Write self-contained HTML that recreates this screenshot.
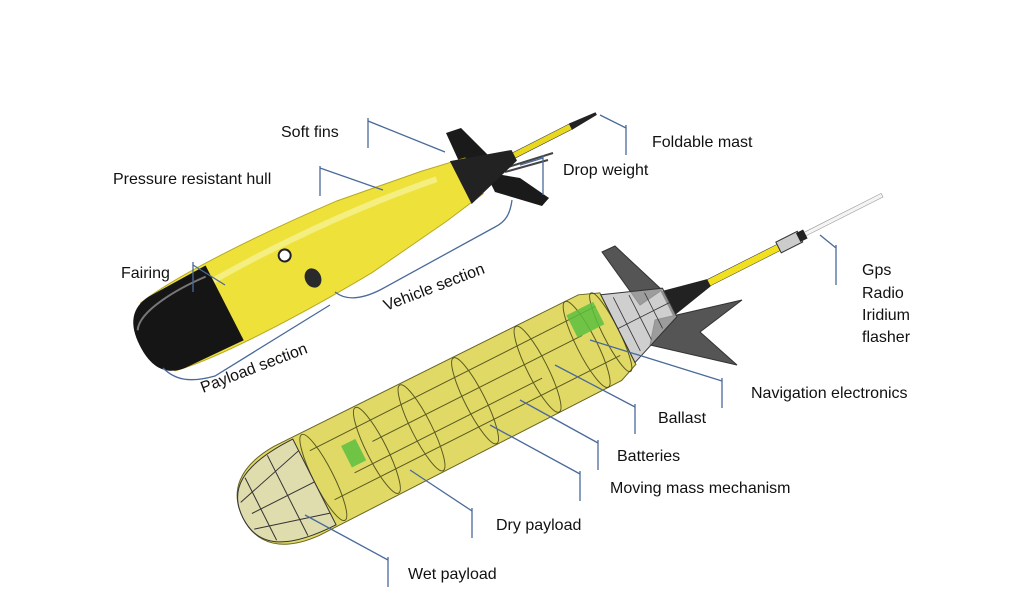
<!DOCTYPE html>
<html><head><meta charset="utf-8"><style>
html,body{margin:0;padding:0;background:#fff;}
svg{display:block;}
text{font-family:"Liberation Sans",Arial,sans-serif;font-size:16px;fill:#111;}
.l{stroke:#4a6a9a;stroke-width:1.3;fill:none;}
</style></head><body>
<svg width="1024" height="613" viewBox="0 0 1024 613" xmlns="http://www.w3.org/2000/svg">
<rect width="1024" height="613" fill="#fff"/>

<path d="M446,133 L461,128 L488,155 L462,168 Z" fill="#1a1a1a"/>
<path d="M485,172 L520,178 L549,198 L542,206 L495,192 Z" fill="#1a1a1a"/>
<path d="M505,168 L553,153 M505,172 L548,160" stroke="#444" stroke-width="2"/>
<g transform="translate(140,346) rotate(-27)">
  <rect x="415" y="-3" width="70" height="6" fill="#e8d820" stroke="#333" stroke-width="0.5"/>
  <path d="M483,-3.5 L512,-1.5 L512,1.5 L483,3.5 Z" fill="#222"/>
  <path d="M20,-38 C60,-46 150,-46 240,-40 L330,-28 L375,-20 L375,20 L330,28 L240,40 C150,46 60,46 20,38 Z" fill="#eee23a" stroke="#b8a820" stroke-width="1"/>
  <path d="M30,-20 C120,-30 240,-28 340,-14" stroke="#f8f4a0" stroke-width="6" fill="none" opacity="0.7"/>
  <path d="M360,-24 L420,-6 L420,6 L360,24 Z" fill="#222"/>
  <path d="M0,0 C0,-25 10,-38 30,-40 L95,-42 L95,42 L30,40 C10,38 0,25 0,0 Z" fill="#151515"/>
  <path d="M5,-15 C15,-32 60,-34 90,-32" stroke="#777" stroke-width="2" fill="none"/>
  <circle cx="170" cy="-15" r="6" fill="#fff" stroke="#222" stroke-width="2"/>
  <ellipse cx="185" cy="18" rx="8" ry="10" fill="#2a2a2a"/>
</g>

<path d="M602,252 L615,246 L662,290 L640,305 Z" fill="#555" stroke="#333"/>
<path d="M655,320 L742,300 L700,332 L737,365 L650,345 Z" fill="#555" stroke="#333"/>
<g transform="translate(243,518) rotate(-26.8)">
  <rect x="520" y="-3.5" width="82" height="7" fill="#f0e020" stroke="#333" stroke-width="0.5"/>
  <rect x="628" y="-2" width="88" height="4" fill="#f4f4f4" stroke="#999" stroke-width="0.6"/>
  <rect x="600" y="-6" width="24" height="12" fill="#ccc" stroke="#333"/>
  <rect x="622" y="-5" width="8" height="10" fill="#222"/>
  <path d="M475,-14 L522,-4 L522,4 L475,14 Z" fill="#222"/>
  <path d="M0,0 C0,-30 20,-48 60,-50 L400,-48 L420,-40 L420,40 L400,48 L60,50 C20,48 0,30 0,0 Z" fill="#d8d040" fill-opacity="0.8" stroke="#6a6420" stroke-width="1"/>
  <g stroke="#3a3a10" stroke-width="1" fill="none" opacity="0.8">
    <ellipse cx="90" cy="0" rx="10" ry="48"/>
    <ellipse cx="150" cy="0" rx="10" ry="48"/>
    <ellipse cx="200" cy="0" rx="10" ry="48"/>
    <ellipse cx="260" cy="0" rx="10" ry="48"/>
    <ellipse cx="330" cy="0" rx="10" ry="48"/>
    <ellipse cx="385" cy="0" rx="10" ry="48"/>
    <ellipse cx="412" cy="0" rx="8" ry="44"/>
    <line x1="90" y1="-30" x2="410" y2="-30"/>
    <line x1="90" y1="25" x2="410" y2="25"/>
    <line x1="150" y1="-10" x2="385" y2="-10"/>
    <line x1="120" y1="10" x2="330" y2="10"/>
  </g>
  <rect x="120" y="-20" width="16" height="24" fill="#5cc040" opacity="0.85"/>
  <rect x="380" y="-35" width="30" height="25" fill="#5cc040" opacity="0.85"/>
  <path d="M0,0 C0,-30 20,-48 80,-48 L80,48 C20,48 0,30 0,0 Z" fill="#ddd" fill-opacity="0.6" stroke="#333"/>
  <g stroke="#333" stroke-width="1" fill="none">
    <path d="M5,-15 L80,-35"/><path d="M5,15 L80,35"/><path d="M10,0 L80,0"/>
    <path d="M20,-35 L20,35"/><path d="M50,-45 L50,45"/>
  </g>
  <path d="M420,-38 L478,-16 L478,16 L420,38 Z" fill="#bbb" fill-opacity="0.7" stroke="#333"/>
  <g stroke="#333" stroke-width="0.8" fill="none">
    <path d="M430,-30 L430,30 M445,-25 L445,25 M460,-20 L460,20 M420,0 L478,0"/>
  </g>
</g>

<text x="281" y="137">Soft fins</text>
<path class="l" d="M368,118 V148 M368,121 L445,152"/>
<text x="113" y="184">Pressure resistant hull</text>
<path class="l" d="M320,166 V196 M320,168 L383,190"/>
<text x="121" y="278">Fairing</text>
<path class="l" d="M193,262 V292 M193,265 L225,285"/>
<text x="652" y="147">Foldable mast</text>
<path class="l" d="M626,125 V155 M626,128 L600,115"/>
<text x="563" y="175">Drop weight</text>
<path class="l" d="M543,155 V195 M543,158 L520,165"/>
<path class="l" d="M163,368 C175,380 190,383 215,376 L330,305"/>
<path class="l" d="M335,292 C345,300 360,300 380,290 L495,227 C505,222 510,215 512,200"/>
<text transform="translate(203,393) rotate(-21)">Payload section</text>
<text transform="translate(386,311) rotate(-21)">Vehicle section</text>
<text x="862" y="275">Gps</text>
<text x="862" y="298">Radio</text>
<text x="862" y="320">Iridium</text>
<text x="862" y="342">flasher</text>
<path class="l" d="M836,245 V285 M836,248 L820,235"/>
<text x="751" y="398">Navigation electronics</text>
<path class="l" d="M722,378 V408 M722,381 L590,340"/>
<text x="658" y="423">Ballast</text>
<path class="l" d="M635,404 V434 M635,407 L555,365"/>
<text x="617" y="461">Batteries</text>
<path class="l" d="M598,440 V470 M598,443 L520,400"/>
<text x="610" y="493">Moving mass mechanism</text>
<path class="l" d="M580,471 V501 M580,474 L490,425"/>
<text x="496" y="530">Dry payload</text>
<path class="l" d="M472,508 V538 M472,511 L410,470"/>
<text x="408" y="579">Wet payload</text>
<path class="l" d="M388,557 V587 M388,560 L305,515"/>
</svg>
</body></html>
